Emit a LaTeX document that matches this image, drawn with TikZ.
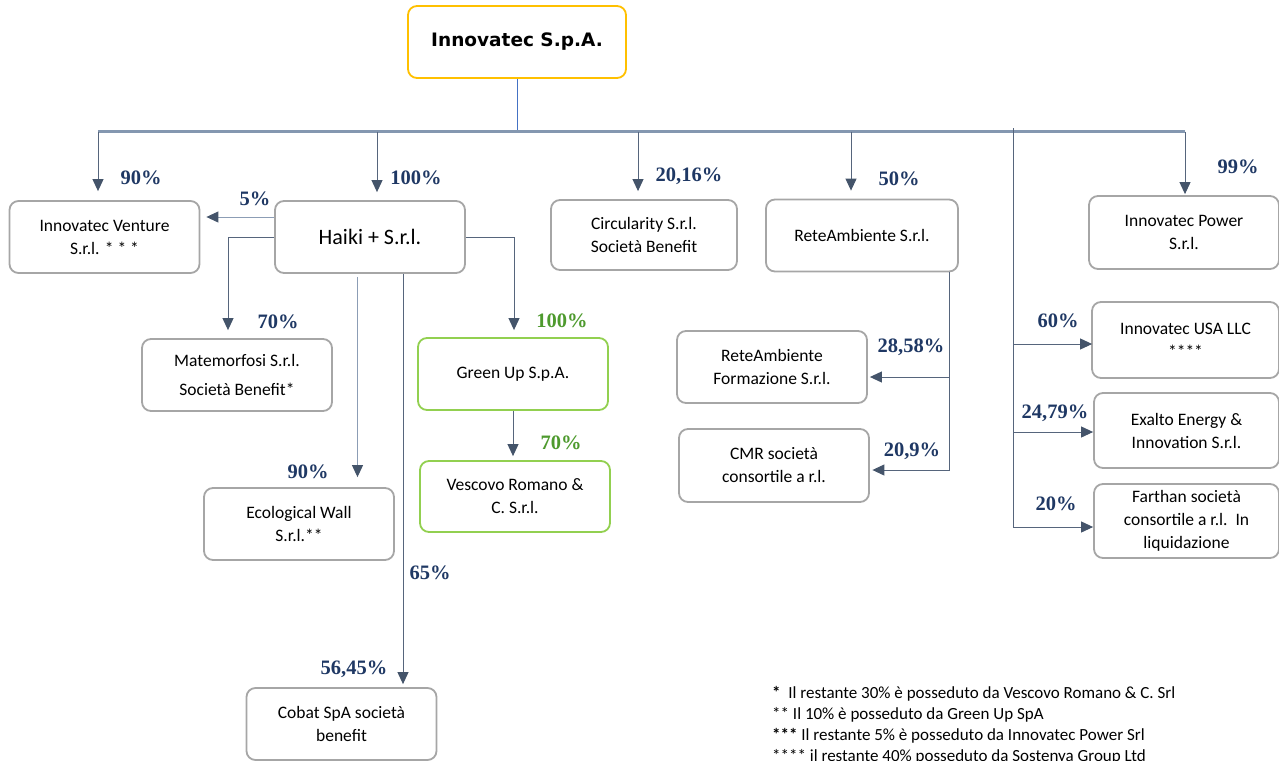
\documentclass[tikz,border=0pt]{standalone}
\usepackage{fontspec}
\setmainfont{Carlito}
\newfontfamily\pctfont{Liberation Serif}
\newfontfamily\headfont{DejaVu Sans}
\usetikzlibrary{positioning, calc, arrows.meta}
\definecolor{boxgray}{HTML}{A6A6A6}
\definecolor{boxgreen}{HTML}{92D050}
\definecolor{boxgold}{HTML}{FFC000}
\definecolor{pctblue}{HTML}{1F3864}
\definecolor{pctgreen}{HTML}{4E9A2E}
\definecolor{linkslate}{HTML}{56657C}
\definecolor{tipslate}{HTML}{44546A}
\definecolor{lightslate}{HTML}{8C9DB5}
\definecolor{busgray}{HTML}{8497B0}
\definecolor{topblue}{HTML}{4472C4}

\begin{document}
\begin{tikzpicture}[x=1pt, y=-1pt,
		box/.style={shape=rectangle, rounded corners=9pt, draw=boxgray, line width=1.8pt, fill=white, align=center, inner sep=0pt, minimum width=190pt, minimum height=72pt, font=\fontsize{17.5}{23}\selectfont},
		greenbox/.style={box, draw=boxgreen},
		topbox/.style={box, draw=boxgold, minimum width=218pt, font=\headfont\bfseries\fontsize{18.5}{22}\selectfont},
		pct/.style={text=pctblue, inner sep=0pt, font=\pctfont\bfseries\fontsize{20.5}{22}\selectfont},
		greenpct/.style={pct, text=pctgreen},
		link/.style={draw=linkslate, line width=1pt, -{Triangle[width=11pt,length=12pt,color=tipslate]}},
		lightlink/.style={link, draw=lightslate},
		plain/.style={draw=linkslate, line width=1pt},
		busline/.style={draw=busgray, line width=3pt},
		topline/.style={draw=topblue, line width=0.8pt},
		note/.style={anchor=west, inner sep=0pt, font=\fontsize{17}{21}\selectfont}]
		\useasboundingbox (0,0) rectangle (1279,760);
		\clip (0,0) rectangle (1279,760);
		
		\node[topbox] (top) at (517,42) {Innovatec S.p.A.};
		\coordinate (bus) at (517,131.5);
		\coordinate (rdrop) at (1013,128);
		
		\node[box] (venture) at (104.5,237) {Innovatec Venture\\S.r.l. * * *};
		\node[box, font=\fontsize{22}{26}\selectfont] (haiki) at (370,237) {Haiki + S.r.l.};
		\node[box, minimum width=186pt, minimum height=70pt] (circ) at (644,235) {Circularity S.r.l.\\Società Benefit};
		\node[box, minimum width=192pt] (rete) at (862,235.5) {ReteAmbiente S.r.l.};
		\node[box, minimum height=73pt] (power) at (1184,232.5) {Innovatec Power\\S.r.l.};
		
		\node[box] (mate) at (237,375) {Matemorfosi S.r.l.\\[6pt]Società Benefit*};
		\node[greenbox] (greenup) at (513,374) {Green Up S.p.A.};
		\node[greenbox, minimum height=71pt] (vescovo) at (515,496.5) {Vescovo Romano \&\\C. S.r.l.};
		\node[box] (ecowall) at (299,524) {Ecological Wall\\S.r.l.**};
		\node[box] (cobat) at (341.5,724) {Cobat SpA società\\benefit};
		
		\node[box] (formaz) at (772,367) {ReteAmbiente\\Formazione S.r.l.};
		\node[box, minimum height=73pt] (cmr) at (774,465.5) {CMR società\\consortile a r.l.};
		
		\node[box, minimum width=187pt, minimum height=76pt] (usa) at (1185.5,340) {Innovatec USA LLC\\****};
		\node[box, minimum width=185pt, minimum height=75pt] (exalto) at (1186.5,430.5) {Exalto Energy \&\\Innovation S.r.l.};
		\node[box, minimum width=185pt, minimum height=74pt] (farthan) at (1186.5,521) {Farthan società\\consortile a r.l.\ \ In\\liquidazione};
		
		\draw[topline] (top.south) -- (bus);
		\draw[busline] ([xshift=-6.5pt]venture.north |- bus) -- ([xshift=1pt]power.north |- bus);
		\draw[link] ([xshift=-6.5pt]venture.north |- bus) -- ([xshift=-6.5pt,yshift=9pt]venture.north);
		\draw[link] ([xshift=7pt]haiki.north |- bus) -- ([xshift=7pt,yshift=8pt]haiki.north);
		\draw[link] ([xshift=-6pt]circ.north |- bus) -- ([xshift=-6pt,yshift=8pt]circ.north);
		\draw[link] ([xshift=-11pt]rete.north |- bus) -- ([xshift=-11pt,yshift=8pt]rete.north);
		\draw[link] ([xshift=1pt]power.north |- bus) -- ([xshift=1pt,yshift=1pt]power.north);
		
		\draw[lightlink] ([yshift=20pt]haiki.west) -- ([xshift=6pt,yshift=20pt]venture.east);
		\draw[link] (haiki.west) -| ([xshift=-9pt,yshift=8pt]mate.north);
		\draw[link] (haiki.east) -| ([xshift=1pt,yshift=7pt]greenup.north);
		\draw[lightlink] ([xshift=-12.5pt,yshift=-3pt]haiki.south) -- ([xshift=58.5pt,yshift=10pt]ecowall.north);
		\draw[link] ([xshift=33pt]haiki.south) -- ([xshift=61.5pt,yshift=3pt]cobat.north);
		\draw[link] (greenup.south) -- ([yshift=4pt]vescovo.north -| greenup.south);
		
		\draw[link] ([xshift=87pt]rete.south) |- ([xshift=2pt,yshift=-10pt]formaz.east);
		\draw[link] ([xshift=87pt]rete.south) |- ([xshift=2.5pt,yshift=-4.5pt]cmr.east);
		
		\draw[plain] (rdrop) -- ([yshift=-6pt]rdrop |- farthan.west);
		\draw[link] ([yshift=-4pt]rdrop |- usa.west) -- ([xshift=1pt,yshift=-4pt]usa.west);
		\draw[link] ([yshift=-1.5pt]rdrop |- exalto.west) -- ([yshift=-1.5pt]exalto.west);
		\draw[link] ([yshift=-6pt]rdrop |- farthan.west) -- ([yshift=-6pt]farthan.west);
		
		\node[pct] (pventure) at (141,178) {90\%};
		\node[pct] (phaiki) at (416,178) {100\%};
		\node[pct] (pcirc) at (689,176) {20,16\%};
		\node[pct] (prete) at (899,179) {50\%};
		\node[pct] (ppower) at (1238,167) {99\%};
		\node[pct] (pventure2) at (255,199) {5\%};
		\node[pct] (pmate) at (278,322) {70\%};
		\node[greenpct] (pgreenup) at (562,321) {100\%};
		\node[greenpct] (pvescovo) at (561,443) {70\%};
		\node[pct] (pecowall) at (308,472) {90\%};
		\node[pct] (pcobat) at (430,573) {65\%};
		\node[pct] (pcobat2) at (354,669) {56,45\%};
		\node[pct] (pformaz) at (911,347) {28,58\%};
		\node[pct] (pcmr) at (912,451) {20,9\%};
		\node[pct] (pusa) at (1058,321) {60\%};
		\node[pct] (pexalto) at (1055,413) {24,79\%};
		\node[pct] (pfarthan) at (1056,504) {20\%};
		
		\node[note] (note1) at (772,694) {\textbf{*}\ \ Il restante 30\% è posseduto da Vescovo Romano \& C. Srl};
		\node[note] (note2) at (772,715) {** Il 10\% è posseduto da Green Up SpA};
		\node[note] (note3) at (772,736) {\textbf{***} Il restante 5\% è posseduto da Innovatec Power Srl};
		\node[note] (note4) at (772,757) {**** il restante 40\% posseduto da Sostenya Group Ltd};
	\end{tikzpicture}
\end{document}
